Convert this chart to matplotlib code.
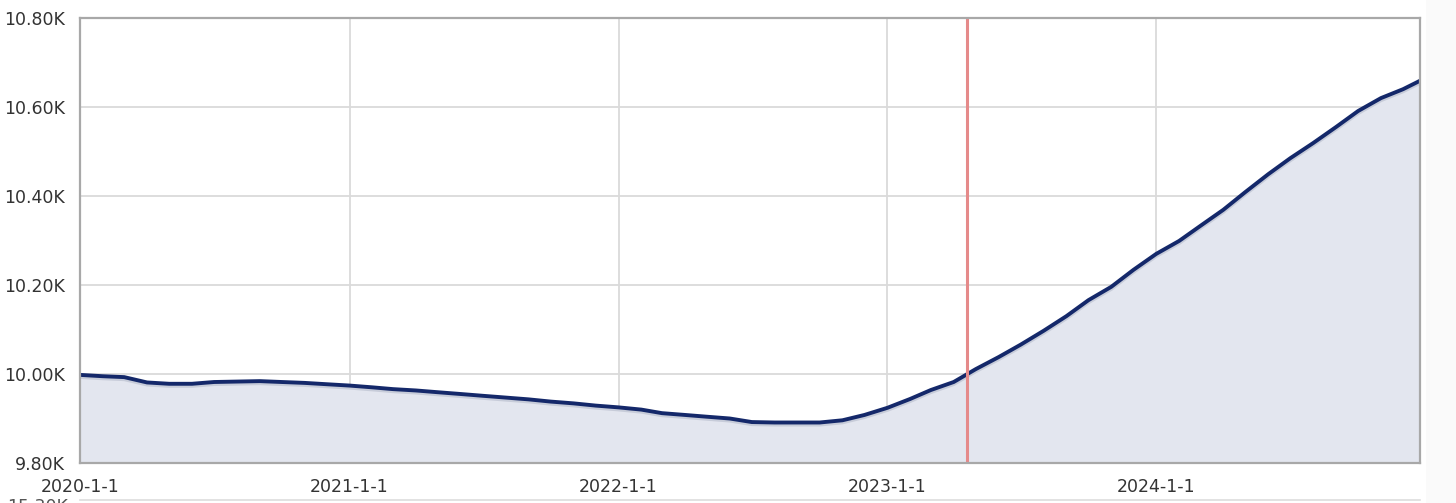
import numpy as np
import pandas as pd
import matplotlib
matplotlib.use('Agg')
import matplotlib.pyplot as plt
import matplotlib.patheffects as pe
from matplotlib.lines import Line2D
from matplotlib.patches import Rectangle

plt.rcParams['font.family'] = ['DejaVu Sans']

# monthly values, last point is the end of the range
dates = list(pd.date_range('2020-01-01', '2024-12-01', freq='MS')) + [pd.Timestamp('2024-12-24')]
values = [9998, 9995, 9993, 9981, 9978, 9978, 9982, 9983, 9984, 9982, 9980, 9977,
          9974, 9970, 9966, 9963, 9959, 9955, 9951, 9947, 9943, 9938, 9934, 9929,
          9925, 9920, 9912, 9908, 9904, 9900, 9892, 9891, 9891, 9891, 9896, 9908,
          9924, 9944, 9964, 9982, 10011, 10038, 10066, 10097, 10130, 10166, 10196, 10234,
          10270, 10299, 10333, 10369, 10409, 10449, 10485, 10519, 10555, 10591, 10620, 10640,
          10659]
marker_date = pd.Timestamp('2023-04-19')
yticks = [9800, 10000, 10200, 10400, 10600, 10800]
xticks = [pd.Timestamp(f'{y}-01-01') for y in range(2020, 2025)]
xlabels = [f'{y}-1-1' for y in range(2020, 2025)]

W, H = 1456, 503
fig = plt.figure(figsize=(W / 100, H / 100), dpi=100)
fig.patch.set_facecolor('white')
# light strip on the right side of the page
fig.add_artist(Rectangle((1426 / W, 0), 1 - 1426 / W, 1, transform=fig.transFigure,
                         facecolor='#fafafa', edgecolor='none', zorder=-5))

ax = fig.add_axes([80 / W, 1 - 463 / H, (1420 - 80) / W, (463 - 18) / H])

ax.fill_between(dates, values, 9800, color='#e3e6ef', zorder=1)
ax.plot(dates, values, color='#14286a', lw=2.8, zorder=3,
        path_effects=[pe.SimpleLineShadow(offset=(0, -1.5), shadow_color='#8890a8', alpha=0.3),
                      pe.Normal()])
ax.axvline(marker_date, color='#e58a8a', lw=2.2, zorder=4)

ax.set_xlim(dates[0], dates[-1])
ax.set_ylim(9800, 10800)
ax.set_yticks(yticks)
ax.set_yticklabels([f'{v / 1000:.2f}K' for v in yticks])
ax.set_xticks(xticks)
ax.set_xticklabels(xlabels)
ax.tick_params(length=0, labelsize=12.5, labelcolor='#333333')
ax.tick_params(axis='y', pad=11)
ax.tick_params(axis='x', pad=11)

ax.grid(True, color='#dadada', lw=1.3, zorder=0)
ax.set_axisbelow(True)
for s in ax.spines.values():
    s.set_color('#a8a8a8')
    s.set_linewidth(1.6)
    s.set_zorder(5)

# top of the next chart, cut off by the page edge
fig.add_artist(Line2D([80 / W, 1420 / W], [1 - 500 / H, 1 - 500 / H],
                      transform=fig.transFigure, color='#dddddd', lw=1.2))
fig.text(68 / W, 1 - 498 / H, '15.30K', ha='right', va='top', fontsize=12.5, color='#555555')

fig.savefig('out.png', dpi=100)
